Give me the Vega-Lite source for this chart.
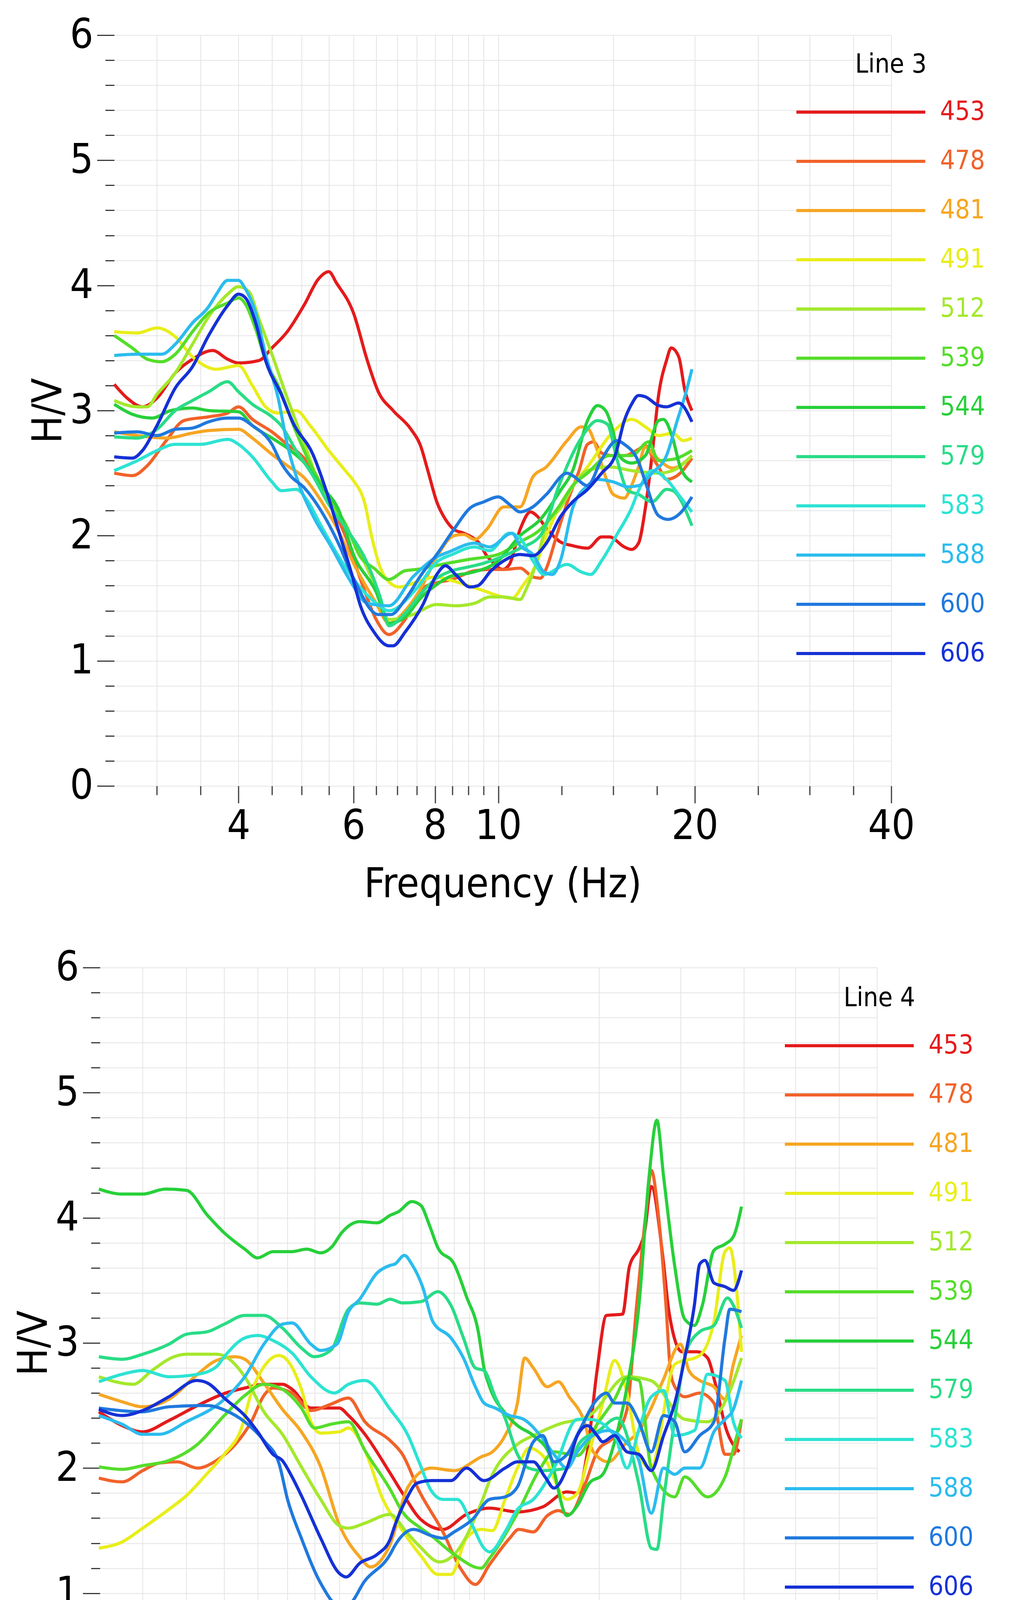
{
  "$schema": "https://vega.github.io/schema/vega-lite/v6.json",
  "background": "white",
  "padding": {"left": 35, "top": 38, "right": 0, "bottom": 0},
  "spacing": 108,
  "center": true,
  "resolve": {"scale": {"color": "independent"}, "legend": {"color": "independent"}},
  "datasets": {
    "line3": [
      {"site":"453","freq":2.58,"hv":3.21},{"site":"453","freq":2.7,"hv":3.1},{"site":"453","freq":2.85,"hv":3.03},{"site":"453","freq":3.0,"hv":3.1},{"site":"453","freq":3.2,"hv":3.3},{"site":"453","freq":3.4,"hv":3.41},{"site":"453","freq":3.65,"hv":3.48},{"site":"453","freq":3.85,"hv":3.41},{"site":"453","freq":4.0,"hv":3.38},{"site":"453","freq":4.3,"hv":3.4},{"site":"453","freq":4.5,"hv":3.5},{"site":"453","freq":4.75,"hv":3.63},{"site":"453","freq":5.05,"hv":3.85},{"site":"453","freq":5.3,"hv":4.05},{"site":"453","freq":5.5,"hv":4.11},{"site":"453","freq":5.65,"hv":4.02},{"site":"453","freq":6.0,"hv":3.78},{"site":"453","freq":6.3,"hv":3.4},{"site":"453","freq":6.55,"hv":3.15},{"site":"453","freq":6.9,"hv":3.0},{"site":"453","freq":7.35,"hv":2.85},{"site":"453","freq":7.6,"hv":2.72},{"site":"453","freq":7.8,"hv":2.52},{"site":"453","freq":8.05,"hv":2.27},{"site":"453","freq":8.3,"hv":2.13},{"site":"453","freq":8.55,"hv":2.05},{"site":"453","freq":8.85,"hv":2.02},{"site":"453","freq":9.1,"hv":1.99},{"site":"453","freq":9.35,"hv":1.94},{"site":"453","freq":9.6,"hv":1.84},{"site":"453","freq":9.8,"hv":1.79},{"site":"453","freq":10.15,"hv":1.73},{"site":"453","freq":10.4,"hv":1.77},{"site":"453","freq":10.8,"hv":2.05},{"site":"453","freq":11.2,"hv":2.19},{"site":"453","freq":11.45,"hv":2.16},{"site":"453","freq":11.85,"hv":2.06},{"site":"453","freq":12.45,"hv":1.95},{"site":"453","freq":13.0,"hv":1.92},{"site":"453","freq":13.7,"hv":1.9},{"site":"453","freq":14.4,"hv":1.99},{"site":"453","freq":14.8,"hv":1.99},{"site":"453","freq":15.6,"hv":1.91},{"site":"453","freq":16.0,"hv":1.89},{"site":"453","freq":16.4,"hv":1.94},{"site":"453","freq":16.8,"hv":2.22},{"site":"453","freq":17.2,"hv":2.64},{"site":"453","freq":17.6,"hv":3.12},{"site":"453","freq":18.1,"hv":3.4},{"site":"453","freq":18.4,"hv":3.5},{"site":"453","freq":18.9,"hv":3.43},{"site":"453","freq":19.3,"hv":3.17},{"site":"453","freq":19.8,"hv":3.0},
      {"site":"478","freq":2.58,"hv":2.5},{"site":"478","freq":2.75,"hv":2.48},{"site":"478","freq":2.9,"hv":2.56},{"site":"478","freq":3.1,"hv":2.76},{"site":"478","freq":3.3,"hv":2.92},{"site":"478","freq":3.6,"hv":2.95},{"site":"478","freq":3.85,"hv":2.98},{"site":"478","freq":4.0,"hv":3.03},{"site":"478","freq":4.2,"hv":2.93},{"site":"478","freq":4.5,"hv":2.83},{"site":"478","freq":4.75,"hv":2.73},{"site":"478","freq":4.9,"hv":2.68},{"site":"478","freq":5.2,"hv":2.53},{"site":"478","freq":5.5,"hv":2.28},{"site":"478","freq":5.85,"hv":1.98},{"site":"478","freq":6.2,"hv":1.6},{"site":"478","freq":6.5,"hv":1.33},{"site":"478","freq":6.8,"hv":1.21},{"site":"478","freq":7.2,"hv":1.33},{"site":"478","freq":7.65,"hv":1.58},{"site":"478","freq":8.0,"hv":1.62},{"site":"478","freq":8.5,"hv":1.65},{"site":"478","freq":9.2,"hv":1.72},{"site":"478","freq":9.8,"hv":1.73},{"site":"478","freq":10.2,"hv":1.73},{"site":"478","freq":10.8,"hv":1.74},{"site":"478","freq":11.3,"hv":1.67},{"site":"478","freq":11.6,"hv":1.66},{"site":"478","freq":11.85,"hv":1.74},{"site":"478","freq":12.3,"hv":2.01},{"site":"478","freq":12.8,"hv":2.29},{"site":"478","freq":13.3,"hv":2.52},{"site":"478","freq":13.7,"hv":2.73},{"site":"478","freq":14.0,"hv":2.75},{"site":"478","freq":14.4,"hv":2.66},{"site":"478","freq":15.0,"hv":2.64},{"site":"478","freq":15.6,"hv":2.64},{"site":"478","freq":16.4,"hv":2.69},{"site":"478","freq":16.8,"hv":2.72},{"site":"478","freq":17.3,"hv":2.61},{"site":"478","freq":17.6,"hv":2.55},{"site":"478","freq":18.1,"hv":2.45},{"site":"478","freq":19.0,"hv":2.5},{"site":"478","freq":19.8,"hv":2.62},
      {"site":"481","freq":2.58,"hv":2.83},{"site":"481","freq":2.8,"hv":2.8},{"site":"481","freq":3.1,"hv":2.78},{"site":"481","freq":3.4,"hv":2.82},{"site":"481","freq":3.6,"hv":2.84},{"site":"481","freq":4.0,"hv":2.85},{"site":"481","freq":4.2,"hv":2.78},{"site":"481","freq":4.5,"hv":2.65},{"site":"481","freq":4.75,"hv":2.56},{"site":"481","freq":5.05,"hv":2.46},{"site":"481","freq":5.35,"hv":2.28},{"site":"481","freq":5.7,"hv":2.03},{"site":"481","freq":6.0,"hv":1.78},{"site":"481","freq":6.5,"hv":1.46},{"site":"481","freq":6.8,"hv":1.3},{"site":"481","freq":7.2,"hv":1.4},{"site":"481","freq":7.65,"hv":1.6},{"site":"481","freq":8.05,"hv":1.83},{"site":"481","freq":8.55,"hv":2.0},{"site":"481","freq":8.85,"hv":2.01},{"site":"481","freq":9.2,"hv":1.97},{"site":"481","freq":9.6,"hv":2.05},{"site":"481","freq":10.2,"hv":2.23},{"site":"481","freq":10.8,"hv":2.23},{"site":"481","freq":11.3,"hv":2.47},{"site":"481","freq":11.85,"hv":2.55},{"site":"481","freq":12.75,"hv":2.76},{"site":"481","freq":13.4,"hv":2.87},{"site":"481","freq":13.7,"hv":2.86},{"site":"481","freq":14.1,"hv":2.72},{"site":"481","freq":14.6,"hv":2.47},{"site":"481","freq":15.0,"hv":2.33},{"site":"481","freq":15.6,"hv":2.3},{"site":"481","freq":16.0,"hv":2.4},{"site":"481","freq":16.4,"hv":2.55},{"site":"481","freq":16.8,"hv":2.71},{"site":"481","freq":17.2,"hv":2.66},{"site":"481","freq":17.6,"hv":2.61},{"site":"481","freq":18.5,"hv":2.54},{"site":"481","freq":19.8,"hv":2.64},
      {"site":"491","freq":2.58,"hv":3.63},{"site":"491","freq":2.8,"hv":3.62},{"site":"491","freq":3.0,"hv":3.66},{"site":"491","freq":3.2,"hv":3.59},{"site":"491","freq":3.4,"hv":3.43},{"site":"491","freq":3.7,"hv":3.33},{"site":"491","freq":4.0,"hv":3.36},{"site":"491","freq":4.2,"hv":3.2},{"site":"491","freq":4.4,"hv":3.03},{"site":"491","freq":4.6,"hv":2.98},{"site":"491","freq":4.9,"hv":3.0},{"site":"491","freq":5.15,"hv":2.88},{"site":"491","freq":5.5,"hv":2.68},{"site":"491","freq":5.85,"hv":2.51},{"site":"491","freq":6.0,"hv":2.44},{"site":"491","freq":6.25,"hv":2.25},{"site":"491","freq":6.4,"hv":1.99},{"site":"491","freq":6.6,"hv":1.74},{"site":"491","freq":6.8,"hv":1.63},{"site":"491","freq":7.05,"hv":1.59},{"site":"491","freq":7.5,"hv":1.63},{"site":"491","freq":8.0,"hv":1.67},{"site":"491","freq":8.5,"hv":1.64},{"site":"491","freq":9.0,"hv":1.6},{"site":"491","freq":9.5,"hv":1.56},{"site":"491","freq":10.0,"hv":1.52},{"site":"491","freq":10.5,"hv":1.5},{"site":"491","freq":10.9,"hv":1.6},{"site":"491","freq":11.4,"hv":1.76},{"site":"491","freq":11.85,"hv":2.0},{"site":"491","freq":12.45,"hv":2.25},{"site":"491","freq":13.0,"hv":2.4},{"site":"491","freq":13.7,"hv":2.55},{"site":"491","freq":15.0,"hv":2.83},{"site":"491","freq":16.0,"hv":2.93},{"site":"491","freq":16.8,"hv":2.87},{"site":"491","freq":17.6,"hv":2.8},{"site":"491","freq":18.5,"hv":2.82},{"site":"491","freq":19.2,"hv":2.76},{"site":"491","freq":19.8,"hv":2.78},
      {"site":"512","freq":2.58,"hv":3.08},{"site":"512","freq":2.8,"hv":3.03},{"site":"512","freq":2.9,"hv":3.03},{"site":"512","freq":3.0,"hv":3.13},{"site":"512","freq":3.2,"hv":3.3},{"site":"512","freq":3.4,"hv":3.53},{"site":"512","freq":3.6,"hv":3.75},{"site":"512","freq":3.85,"hv":3.93},{"site":"512","freq":4.0,"hv":3.99},{"site":"512","freq":4.15,"hv":3.95},{"site":"512","freq":4.3,"hv":3.73},{"site":"512","freq":4.5,"hv":3.45},{"site":"512","freq":4.75,"hv":3.1},{"site":"512","freq":5.05,"hv":2.73},{"site":"512","freq":5.35,"hv":2.38},{"site":"512","freq":5.7,"hv":2.16},{"site":"512","freq":6.0,"hv":1.96},{"site":"512","freq":6.5,"hv":1.58},{"site":"512","freq":6.8,"hv":1.33},{"site":"512","freq":7.4,"hv":1.37},{"site":"512","freq":8.05,"hv":1.45},{"site":"512","freq":8.6,"hv":1.44},{"site":"512","freq":9.2,"hv":1.46},{"site":"512","freq":9.7,"hv":1.51},{"site":"512","freq":10.2,"hv":1.51},{"site":"512","freq":10.8,"hv":1.49},{"site":"512","freq":11.05,"hv":1.58},{"site":"512","freq":11.4,"hv":1.76},{"site":"512","freq":11.85,"hv":2.08},{"site":"512","freq":12.45,"hv":2.22},{"site":"512","freq":13.0,"hv":2.39},{"site":"512","freq":13.7,"hv":2.52},{"site":"512","freq":14.8,"hv":2.55},{"site":"512","freq":16.0,"hv":2.52},{"site":"512","freq":17.6,"hv":2.5},{"site":"512","freq":18.5,"hv":2.52},{"site":"512","freq":19.8,"hv":2.64},
      {"site":"539","freq":2.58,"hv":3.6},{"site":"539","freq":2.75,"hv":3.5},{"site":"539","freq":2.9,"hv":3.41},{"site":"539","freq":3.05,"hv":3.39},{"site":"539","freq":3.2,"hv":3.45},{"site":"539","freq":3.4,"hv":3.63},{"site":"539","freq":3.6,"hv":3.78},{"site":"539","freq":3.85,"hv":3.86},{"site":"539","freq":4.0,"hv":3.9},{"site":"539","freq":4.1,"hv":3.85},{"site":"539","freq":4.25,"hv":3.65},{"site":"539","freq":4.4,"hv":3.4},{"site":"539","freq":4.6,"hv":3.2},{"site":"539","freq":4.9,"hv":2.83},{"site":"539","freq":5.2,"hv":2.53},{"site":"539","freq":5.55,"hv":2.28},{"site":"539","freq":5.85,"hv":2.08},{"site":"539","freq":6.15,"hv":1.83},{"site":"539","freq":6.45,"hv":1.74},{"site":"539","freq":6.8,"hv":1.65},{"site":"539","freq":7.2,"hv":1.72},{"site":"539","freq":7.5,"hv":1.73},{"site":"539","freq":8.0,"hv":1.76},{"site":"539","freq":9.0,"hv":1.81},{"site":"539","freq":10.0,"hv":1.85},{"site":"539","freq":10.8,"hv":1.95},{"site":"539","freq":11.6,"hv":2.05},{"site":"539","freq":12.45,"hv":2.25},{"site":"539","freq":13.0,"hv":2.4},{"site":"539","freq":13.7,"hv":2.5},{"site":"539","freq":14.8,"hv":2.64},{"site":"539","freq":16.0,"hv":2.64},{"site":"539","freq":17.0,"hv":2.75},{"site":"539","freq":17.6,"hv":2.6},{"site":"539","freq":18.5,"hv":2.61},{"site":"539","freq":19.8,"hv":2.68},
      {"site":"544","freq":2.58,"hv":3.05},{"site":"544","freq":2.75,"hv":2.97},{"site":"544","freq":2.95,"hv":2.94},{"site":"544","freq":3.15,"hv":3.0},{"site":"544","freq":3.4,"hv":3.02},{"site":"544","freq":3.6,"hv":3.0},{"site":"544","freq":4.0,"hv":2.99},{"site":"544","freq":4.2,"hv":2.88},{"site":"544","freq":4.5,"hv":2.78},{"site":"544","freq":4.75,"hv":2.7},{"site":"544","freq":5.05,"hv":2.58},{"site":"544","freq":5.35,"hv":2.4},{"site":"544","freq":5.7,"hv":2.2},{"site":"544","freq":6.0,"hv":1.85},{"site":"544","freq":6.5,"hv":1.55},{"site":"544","freq":6.8,"hv":1.3},{"site":"544","freq":7.2,"hv":1.35},{"site":"544","freq":7.6,"hv":1.5},{"site":"544","freq":8.0,"hv":1.6},{"site":"544","freq":8.5,"hv":1.68},{"site":"544","freq":9.0,"hv":1.7},{"site":"544","freq":10.0,"hv":1.8},{"site":"544","freq":10.8,"hv":2.0},{"site":"544","freq":11.6,"hv":2.13},{"site":"544","freq":12.45,"hv":2.36},{"site":"544","freq":13.0,"hv":2.52},{"site":"544","freq":13.7,"hv":2.92},{"site":"544","freq":14.2,"hv":3.04},{"site":"544","freq":14.6,"hv":3.0},{"site":"544","freq":15.0,"hv":2.83},{"site":"544","freq":15.3,"hv":2.64},{"site":"544","freq":16.0,"hv":2.58},{"site":"544","freq":16.8,"hv":2.64},{"site":"544","freq":17.6,"hv":2.92},{"site":"544","freq":17.9,"hv":2.93},{"site":"544","freq":18.5,"hv":2.78},{"site":"544","freq":19.0,"hv":2.55},{"site":"544","freq":19.8,"hv":2.43},
      {"site":"579","freq":2.58,"hv":2.79},{"site":"579","freq":2.8,"hv":2.78},{"site":"579","freq":3.0,"hv":2.85},{"site":"579","freq":3.2,"hv":3.0},{"site":"579","freq":3.4,"hv":3.08},{"site":"579","freq":3.6,"hv":3.15},{"site":"579","freq":3.85,"hv":3.23},{"site":"579","freq":4.0,"hv":3.15},{"site":"579","freq":4.2,"hv":3.05},{"site":"579","freq":4.5,"hv":2.95},{"site":"579","freq":4.65,"hv":2.88},{"site":"579","freq":4.9,"hv":2.68},{"site":"579","freq":5.2,"hv":2.48},{"site":"579","freq":5.5,"hv":2.25},{"site":"579","freq":5.9,"hv":2.03},{"site":"579","freq":6.3,"hv":1.78},{"site":"579","freq":6.6,"hv":1.5},{"site":"579","freq":6.8,"hv":1.28},{"site":"579","freq":7.2,"hv":1.38},{"site":"579","freq":7.65,"hv":1.55},{"site":"579","freq":8.0,"hv":1.65},{"site":"579","freq":8.5,"hv":1.72},{"site":"579","freq":9.0,"hv":1.75},{"site":"579","freq":9.5,"hv":1.78},{"site":"579","freq":10.0,"hv":1.82},{"site":"579","freq":10.8,"hv":1.9},{"site":"579","freq":11.6,"hv":2.0},{"site":"579","freq":12.45,"hv":2.43},{"site":"579","freq":13.4,"hv":2.78},{"site":"579","freq":14.2,"hv":2.92},{"site":"579","freq":14.7,"hv":2.89},{"site":"579","freq":15.2,"hv":2.61},{"site":"579","freq":15.8,"hv":2.36},{"site":"579","freq":16.4,"hv":2.33},{"site":"579","freq":17.2,"hv":2.27},{"site":"579","freq":18.1,"hv":2.37},{"site":"579","freq":18.5,"hv":2.36},{"site":"579","freq":19.8,"hv":2.08},
      {"site":"583","freq":2.58,"hv":2.52},{"site":"583","freq":2.8,"hv":2.6},{"site":"583","freq":3.0,"hv":2.68},{"site":"583","freq":3.2,"hv":2.73},{"site":"583","freq":3.5,"hv":2.73},{"site":"583","freq":3.85,"hv":2.77},{"site":"583","freq":4.0,"hv":2.73},{"site":"583","freq":4.2,"hv":2.63},{"site":"583","freq":4.5,"hv":2.43},{"site":"583","freq":4.65,"hv":2.36},{"site":"583","freq":4.9,"hv":2.37},{"site":"583","freq":5.1,"hv":2.28},{"site":"583","freq":5.35,"hv":2.08},{"site":"583","freq":5.7,"hv":1.83},{"site":"583","freq":6.05,"hv":1.63},{"site":"583","freq":6.5,"hv":1.46},{"site":"583","freq":6.8,"hv":1.4},{"site":"583","freq":7.5,"hv":1.58},{"site":"583","freq":8.05,"hv":1.79},{"site":"583","freq":8.5,"hv":1.85},{"site":"583","freq":9.2,"hv":1.91},{"site":"583","freq":9.7,"hv":1.88},{"site":"583","freq":10.4,"hv":2.02},{"site":"583","freq":10.8,"hv":1.98},{"site":"583","freq":11.3,"hv":1.8},{"site":"583","freq":11.75,"hv":1.69},{"site":"583","freq":12.75,"hv":1.77},{"site":"583","freq":13.4,"hv":1.71},{"site":"583","freq":13.85,"hv":1.69},{"site":"583","freq":14.4,"hv":1.8},{"site":"583","freq":15.2,"hv":2.01},{"site":"583","freq":16.0,"hv":2.22},{"site":"583","freq":16.4,"hv":2.36},{"site":"583","freq":17.2,"hv":2.52},{"site":"583","freq":18.1,"hv":2.45},{"site":"583","freq":19.0,"hv":2.31},{"site":"583","freq":19.8,"hv":2.19},
      {"site":"588","freq":2.58,"hv":3.44},{"site":"588","freq":2.8,"hv":3.45},{"site":"588","freq":3.05,"hv":3.45},{"site":"588","freq":3.2,"hv":3.53},{"site":"588","freq":3.4,"hv":3.7},{"site":"588","freq":3.6,"hv":3.83},{"site":"588","freq":3.7,"hv":3.93},{"site":"588","freq":3.85,"hv":4.04},{"site":"588","freq":4.0,"hv":4.04},{"site":"588","freq":4.1,"hv":3.97},{"site":"588","freq":4.25,"hv":3.78},{"site":"588","freq":4.4,"hv":3.45},{"site":"588","freq":4.6,"hv":3.1},{"site":"588","freq":4.75,"hv":2.73},{"site":"588","freq":4.9,"hv":2.48},{"site":"588","freq":5.2,"hv":2.16},{"site":"588","freq":5.55,"hv":1.91},{"site":"588","freq":5.9,"hv":1.66},{"site":"588","freq":6.3,"hv":1.46},{"site":"588","freq":6.8,"hv":1.44},{"site":"588","freq":7.4,"hv":1.67},{"site":"588","freq":8.05,"hv":1.83},{"site":"588","freq":8.4,"hv":1.87},{"site":"588","freq":9.2,"hv":1.94},{"site":"588","freq":9.7,"hv":1.91},{"site":"588","freq":10.5,"hv":2.02},{"site":"588","freq":10.8,"hv":1.92},{"site":"588","freq":11.3,"hv":1.85},{"site":"588","freq":11.75,"hv":1.71},{"site":"588","freq":12.1,"hv":1.69},{"site":"588","freq":12.45,"hv":1.8},{"site":"588","freq":13.0,"hv":2.22},{"site":"588","freq":13.7,"hv":2.4},{"site":"588","freq":14.2,"hv":2.45},{"site":"588","freq":15.0,"hv":2.43},{"site":"588","freq":15.8,"hv":2.39},{"site":"588","freq":16.4,"hv":2.4},{"site":"588","freq":17.2,"hv":2.5},{"site":"588","freq":18.1,"hv":2.64},{"site":"588","freq":18.8,"hv":2.92},{"site":"588","freq":19.4,"hv":3.15},{"site":"588","freq":19.8,"hv":3.33},
      {"site":"600","freq":2.58,"hv":2.82},{"site":"600","freq":2.8,"hv":2.83},{"site":"600","freq":3.0,"hv":2.8},{"site":"600","freq":3.2,"hv":2.85},{"site":"600","freq":3.4,"hv":2.86},{"site":"600","freq":3.6,"hv":2.91},{"site":"600","freq":3.85,"hv":2.94},{"site":"600","freq":4.0,"hv":2.94},{"site":"600","freq":4.2,"hv":2.88},{"site":"600","freq":4.5,"hv":2.73},{"site":"600","freq":4.65,"hv":2.58},{"site":"600","freq":4.8,"hv":2.48},{"site":"600","freq":5.05,"hv":2.38},{"site":"600","freq":5.35,"hv":2.2},{"site":"600","freq":5.7,"hv":1.93},{"site":"600","freq":6.0,"hv":1.66},{"site":"600","freq":6.55,"hv":1.37},{"site":"600","freq":6.85,"hv":1.37},{"site":"600","freq":7.2,"hv":1.49},{"site":"600","freq":7.65,"hv":1.7},{"site":"600","freq":8.05,"hv":1.85},{"site":"600","freq":8.55,"hv":2.05},{"site":"600","freq":9.05,"hv":2.22},{"site":"600","freq":9.5,"hv":2.27},{"site":"600","freq":10.0,"hv":2.31},{"site":"600","freq":10.4,"hv":2.25},{"site":"600","freq":10.8,"hv":2.19},{"site":"600","freq":11.3,"hv":2.23},{"site":"600","freq":11.85,"hv":2.33},{"site":"600","freq":12.75,"hv":2.5},{"site":"600","freq":13.0,"hv":2.48},{"site":"600","freq":13.7,"hv":2.4},{"site":"600","freq":14.4,"hv":2.61},{"site":"600","freq":15.2,"hv":2.76},{"site":"600","freq":15.6,"hv":2.73},{"site":"600","freq":16.4,"hv":2.59},{"site":"600","freq":16.8,"hv":2.43},{"site":"600","freq":17.6,"hv":2.16},{"site":"600","freq":18.2,"hv":2.13},{"site":"600","freq":19.0,"hv":2.18},{"site":"600","freq":19.8,"hv":2.31},
      {"site":"606","freq":2.58,"hv":2.63},{"site":"606","freq":2.75,"hv":2.62},{"site":"606","freq":2.85,"hv":2.68},{"site":"606","freq":3.0,"hv":2.88},{"site":"606","freq":3.2,"hv":3.18},{"site":"606","freq":3.4,"hv":3.35},{"site":"606","freq":3.6,"hv":3.6},{"site":"606","freq":3.85,"hv":3.84},{"site":"606","freq":4.0,"hv":3.93},{"site":"606","freq":4.1,"hv":3.9},{"site":"606","freq":4.25,"hv":3.7},{"site":"606","freq":4.4,"hv":3.4},{"site":"606","freq":4.65,"hv":3.13},{"site":"606","freq":4.85,"hv":2.9},{"site":"606","freq":5.2,"hv":2.65},{"site":"606","freq":5.45,"hv":2.36},{"site":"606","freq":5.7,"hv":2.03},{"site":"606","freq":5.95,"hv":1.71},{"site":"606","freq":6.15,"hv":1.44},{"site":"606","freq":6.45,"hv":1.23},{"site":"606","freq":6.8,"hv":1.12},{"site":"606","freq":6.9,"hv":1.12},{"site":"606","freq":7.2,"hv":1.23},{"site":"606","freq":7.65,"hv":1.44},{"site":"606","freq":8.05,"hv":1.69},{"site":"606","freq":8.3,"hv":1.76},{"site":"606","freq":8.6,"hv":1.69},{"site":"606","freq":9.05,"hv":1.59},{"site":"606","freq":9.3,"hv":1.6},{"site":"606","freq":9.75,"hv":1.72},{"site":"606","freq":10.2,"hv":1.8},{"site":"606","freq":10.8,"hv":1.85},{"site":"606","freq":11.3,"hv":1.84},{"site":"606","freq":11.85,"hv":1.94},{"site":"606","freq":12.45,"hv":2.15},{"site":"606","freq":13.0,"hv":2.27},{"site":"606","freq":13.7,"hv":2.37},{"site":"606","freq":14.4,"hv":2.5},{"site":"606","freq":15.1,"hv":2.64},{"site":"606","freq":15.6,"hv":2.92},{"site":"606","freq":16.0,"hv":3.05},{"site":"606","freq":16.4,"hv":3.12},{"site":"606","freq":16.8,"hv":3.11},{"site":"606","freq":17.6,"hv":3.04},{"site":"606","freq":18.1,"hv":3.03},{"site":"606","freq":18.9,"hv":3.06},{"site":"606","freq":19.8,"hv":2.91}
    ],
    "line4": [
      {"site":"453","freq":2.57,"hv":2.45},{"site":"453","freq":2.79,"hv":2.34},{"site":"453","freq":3.0,"hv":2.29},{"site":"453","freq":3.29,"hv":2.38},{"site":"453","freq":3.64,"hv":2.5},{"site":"453","freq":4.02,"hv":2.6},{"site":"453","freq":4.3,"hv":2.64},{"site":"453","freq":4.6,"hv":2.67},{"site":"453","freq":4.91,"hv":2.67},{"site":"453","freq":5.08,"hv":2.63},{"site":"453","freq":5.43,"hv":2.48},{"site":"453","freq":6.0,"hv":2.48},{"site":"453","freq":6.2,"hv":2.42},{"site":"453","freq":6.57,"hv":2.27},{"site":"453","freq":7.18,"hv":1.96},{"site":"453","freq":7.5,"hv":1.8},{"site":"453","freq":8.0,"hv":1.59},{"site":"453","freq":8.65,"hv":1.51},{"site":"453","freq":9.4,"hv":1.63},{"site":"453","freq":10.2,"hv":1.68},{"site":"453","freq":11.25,"hv":1.65},{"site":"453","freq":12.3,"hv":1.69},{"site":"453","freq":13.4,"hv":1.81},{"site":"453","freq":13.9,"hv":1.8},{"site":"453","freq":14.4,"hv":2.13},{"site":"453","freq":14.9,"hv":2.78},{"site":"453","freq":15.4,"hv":3.22},{"site":"453","freq":16.3,"hv":3.23},{"site":"453","freq":16.7,"hv":3.61},{"site":"453","freq":17.3,"hv":3.76},{"site":"453","freq":17.6,"hv":3.87},{"site":"453","freq":18.04,"hv":4.25},{"site":"453","freq":18.8,"hv":3.68},{"site":"453","freq":19.2,"hv":3.25},{"site":"453","freq":20.1,"hv":2.93},{"site":"453","freq":21.2,"hv":2.93},{"site":"453","freq":22.0,"hv":2.88},{"site":"453","freq":22.6,"hv":2.68},{"site":"453","freq":23.5,"hv":2.31},{"site":"453","freq":24.6,"hv":2.13},
      {"site":"478","freq":2.57,"hv":1.92},{"site":"478","freq":2.79,"hv":1.89},{"site":"478","freq":3.0,"hv":1.98},{"site":"478","freq":3.18,"hv":2.04},{"site":"478","freq":3.39,"hv":2.05},{"site":"478","freq":3.64,"hv":2.0},{"site":"478","freq":3.89,"hv":2.06},{"site":"478","freq":4.16,"hv":2.19},{"site":"478","freq":4.4,"hv":2.37},{"site":"478","freq":4.6,"hv":2.58},{"site":"478","freq":4.75,"hv":2.64},{"site":"478","freq":5.08,"hv":2.6},{"site":"478","freq":5.43,"hv":2.46},{"site":"478","freq":5.82,"hv":2.51},{"site":"478","freq":6.2,"hv":2.56},{"site":"478","freq":6.57,"hv":2.37},{"site":"478","freq":7.18,"hv":2.22},{"site":"478","freq":7.5,"hv":2.11},{"site":"478","freq":7.95,"hv":1.82},{"site":"478","freq":8.65,"hv":1.49},{"site":"478","freq":9.2,"hv":1.2},{"site":"478","freq":9.7,"hv":1.07},{"site":"478","freq":10.2,"hv":1.23},{"site":"478","freq":10.95,"hv":1.44},{"site":"478","freq":11.3,"hv":1.51},{"site":"478","freq":11.9,"hv":1.49},{"site":"478","freq":12.5,"hv":1.62},{"site":"478","freq":13.0,"hv":1.66},{"site":"478","freq":13.5,"hv":1.63},{"site":"478","freq":14.3,"hv":1.88},{"site":"478","freq":14.9,"hv":2.13},{"site":"478","freq":15.85,"hv":2.26},{"site":"478","freq":16.56,"hv":2.47},{"site":"478","freq":17.13,"hv":3.3},{"site":"478","freq":17.73,"hv":4.07},{"site":"478","freq":18.04,"hv":4.38},{"site":"478","freq":18.5,"hv":4.02},{"site":"478","freq":19.0,"hv":3.3},{"site":"478","freq":19.3,"hv":2.78},{"site":"478","freq":19.6,"hv":2.65},{"site":"478","freq":20.3,"hv":2.57},{"site":"478","freq":21.4,"hv":2.6},{"site":"478","freq":22.5,"hv":2.52},{"site":"478","freq":23.4,"hv":2.11},{"site":"478","freq":24.1,"hv":2.11},{"site":"478","freq":24.8,"hv":2.39},
      {"site":"481","freq":2.57,"hv":2.59},{"site":"481","freq":2.79,"hv":2.53},{"site":"481","freq":3.0,"hv":2.49},{"site":"481","freq":3.29,"hv":2.55},{"site":"481","freq":3.64,"hv":2.75},{"site":"481","freq":3.89,"hv":2.86},{"site":"481","freq":4.16,"hv":2.89},{"site":"481","freq":4.3,"hv":2.87},{"site":"481","freq":4.6,"hv":2.68},{"site":"481","freq":4.91,"hv":2.47},{"site":"481","freq":5.25,"hv":2.29},{"site":"481","freq":5.62,"hv":2.01},{"site":"481","freq":6.0,"hv":1.55},{"site":"481","freq":6.45,"hv":1.29},{"site":"481","freq":6.7,"hv":1.21},{"site":"481","freq":7.18,"hv":1.39},{"site":"481","freq":7.65,"hv":1.85},{"site":"481","freq":8.3,"hv":2.0},{"site":"481","freq":9.0,"hv":1.98},{"site":"481","freq":9.9,"hv":2.09},{"site":"481","freq":10.3,"hv":2.13},{"site":"481","freq":10.77,"hv":2.26},{"site":"481","freq":11.25,"hv":2.52},{"site":"481","freq":11.54,"hv":2.88},{"site":"481","freq":11.9,"hv":2.8},{"site":"481","freq":12.5,"hv":2.65},{"site":"481","freq":13.0,"hv":2.69},{"site":"481","freq":13.5,"hv":2.57},{"site":"481","freq":14.2,"hv":2.39},{"site":"481","freq":14.7,"hv":2.13},{"site":"481","freq":15.5,"hv":2.05},{"site":"481","freq":16.5,"hv":2.2},{"site":"481","freq":17.3,"hv":2.3},{"site":"481","freq":18.0,"hv":2.47},{"site":"481","freq":18.8,"hv":2.7},{"site":"481","freq":20.0,"hv":2.99},{"site":"481","freq":20.6,"hv":2.78},{"site":"481","freq":21.4,"hv":2.7},{"site":"481","freq":22.5,"hv":2.65},{"site":"481","freq":23.4,"hv":2.55},{"site":"481","freq":24.1,"hv":2.83},{"site":"481","freq":24.8,"hv":3.06},
      {"site":"491","freq":2.57,"hv":1.36},{"site":"491","freq":2.79,"hv":1.41},{"site":"491","freq":3.0,"hv":1.52},{"site":"491","freq":3.29,"hv":1.67},{"site":"491","freq":3.5,"hv":1.78},{"site":"491","freq":3.77,"hv":1.96},{"site":"491","freq":4.0,"hv":2.11},{"site":"491","freq":4.25,"hv":2.32},{"site":"491","freq":4.4,"hv":2.6},{"site":"491","freq":4.6,"hv":2.81},{"site":"491","freq":4.85,"hv":2.9},{"site":"491","freq":5.0,"hv":2.86},{"site":"491","freq":5.25,"hv":2.63},{"site":"491","freq":5.43,"hv":2.37},{"site":"491","freq":5.62,"hv":2.28},{"site":"491","freq":6.0,"hv":2.29},{"site":"491","freq":6.2,"hv":2.32},{"site":"491","freq":6.57,"hv":2.14},{"site":"491","freq":7.0,"hv":1.75},{"site":"491","freq":7.5,"hv":1.5},{"site":"491","freq":8.0,"hv":1.3},{"site":"491","freq":8.5,"hv":1.15},{"site":"491","freq":8.9,"hv":1.15},{"site":"491","freq":9.4,"hv":1.44},{"site":"491","freq":9.9,"hv":1.51},{"site":"491","freq":10.3,"hv":1.5},{"site":"491","freq":10.77,"hv":1.75},{"site":"491","freq":11.25,"hv":2.0},{"site":"491","freq":11.73,"hv":2.16},{"site":"491","freq":12.3,"hv":2.1},{"site":"491","freq":13.4,"hv":1.75},{"site":"491","freq":13.9,"hv":1.8},{"site":"491","freq":14.5,"hv":2.13},{"site":"491","freq":15.2,"hv":2.52},{"site":"491","freq":15.85,"hv":2.86},{"site":"491","freq":16.56,"hv":2.6},{"site":"491","freq":17.3,"hv":2.1},{"site":"491","freq":18.0,"hv":2.0},{"site":"491","freq":19.6,"hv":2.83},{"site":"491","freq":21.4,"hv":2.9},{"site":"491","freq":22.5,"hv":3.17},{"site":"491","freq":23.4,"hv":3.73},{"site":"491","freq":23.8,"hv":3.76},{"site":"491","freq":24.4,"hv":3.4},{"site":"491","freq":24.8,"hv":2.93},
      {"site":"512","freq":2.57,"hv":2.73},{"site":"512","freq":2.9,"hv":2.67},{"site":"512","freq":3.1,"hv":2.78},{"site":"512","freq":3.35,"hv":2.89},{"site":"512","freq":3.5,"hv":2.91},{"site":"512","freq":3.89,"hv":2.91},{"site":"512","freq":4.02,"hv":2.89},{"site":"512","freq":4.3,"hv":2.73},{"site":"512","freq":4.6,"hv":2.45},{"site":"512","freq":4.91,"hv":2.27},{"site":"512","freq":5.25,"hv":2.01},{"site":"512","freq":5.62,"hv":1.75},{"site":"512","freq":6.0,"hv":1.54},{"site":"512","freq":6.2,"hv":1.52},{"site":"512","freq":6.57,"hv":1.56},{"site":"512","freq":7.18,"hv":1.63},{"site":"512","freq":7.6,"hv":1.49},{"site":"512","freq":7.95,"hv":1.38},{"site":"512","freq":8.55,"hv":1.25},{"site":"512","freq":9.0,"hv":1.31},{"site":"512","freq":9.9,"hv":1.72},{"site":"512","freq":10.2,"hv":1.9},{"site":"512","freq":11.25,"hv":2.19},{"site":"512","freq":11.9,"hv":2.26},{"site":"512","freq":13.0,"hv":2.35},{"site":"512","freq":14.5,"hv":2.42},{"site":"512","freq":16.56,"hv":2.73},{"site":"512","freq":18.0,"hv":2.7},{"site":"512","freq":20.3,"hv":2.39},{"site":"512","freq":22.0,"hv":2.37},{"site":"512","freq":23.6,"hv":2.57},{"site":"512","freq":24.8,"hv":2.88},
      {"site":"539","freq":2.57,"hv":2.01},{"site":"539","freq":2.79,"hv":1.99},{"site":"539","freq":3.0,"hv":2.02},{"site":"539","freq":3.29,"hv":2.06},{"site":"539","freq":3.64,"hv":2.19},{"site":"539","freq":4.0,"hv":2.42},{"site":"539","freq":4.3,"hv":2.58},{"site":"539","freq":4.6,"hv":2.67},{"site":"539","freq":4.91,"hv":2.63},{"site":"539","freq":5.25,"hv":2.48},{"site":"539","freq":5.5,"hv":2.32},{"site":"539","freq":5.82,"hv":2.35},{"site":"539","freq":6.2,"hv":2.37},{"site":"539","freq":6.57,"hv":2.14},{"site":"539","freq":7.18,"hv":1.83},{"site":"539","freq":7.5,"hv":1.65},{"site":"539","freq":8.0,"hv":1.52},{"site":"539","freq":8.3,"hv":1.46},{"site":"539","freq":9.0,"hv":1.31},{"site":"539","freq":9.9,"hv":1.2},{"site":"539","freq":10.2,"hv":1.28},{"site":"539","freq":11.25,"hv":1.64},{"site":"539","freq":12.2,"hv":2.0},{"site":"539","freq":12.8,"hv":2.13},{"site":"539","freq":13.9,"hv":2.1},{"site":"539","freq":14.9,"hv":2.35},{"site":"539","freq":15.85,"hv":2.55},{"site":"539","freq":16.56,"hv":2.72},{"site":"539","freq":17.27,"hv":2.7},{"site":"539","freq":18.04,"hv":2.0},{"site":"539","freq":19.6,"hv":1.77},{"site":"539","freq":20.3,"hv":1.93},{"site":"539","freq":22.0,"hv":1.77},{"site":"539","freq":23.4,"hv":1.93},{"site":"539","freq":24.4,"hv":2.26},{"site":"539","freq":24.8,"hv":2.39},
      {"site":"544","freq":2.57,"hv":4.23},{"site":"544","freq":2.79,"hv":4.19},{"site":"544","freq":3.0,"hv":4.19},{"site":"544","freq":3.25,"hv":4.23},{"site":"544","freq":3.5,"hv":4.22},{"site":"544","freq":3.77,"hv":4.02},{"site":"544","freq":4.0,"hv":3.88},{"site":"544","freq":4.3,"hv":3.75},{"site":"544","freq":4.5,"hv":3.68},{"site":"544","freq":4.75,"hv":3.73},{"site":"544","freq":5.08,"hv":3.73},{"site":"544","freq":5.35,"hv":3.75},{"site":"544","freq":5.62,"hv":3.72},{"site":"544","freq":5.85,"hv":3.77},{"site":"544","freq":6.05,"hv":3.88},{"site":"544","freq":6.45,"hv":3.97},{"site":"544","freq":6.86,"hv":3.96},{"site":"544","freq":7.18,"hv":4.02},{"site":"544","freq":7.4,"hv":4.05},{"site":"544","freq":7.75,"hv":4.13},{"site":"544","freq":8.0,"hv":4.1},{"site":"544","freq":8.25,"hv":3.94},{"site":"544","freq":8.5,"hv":3.76},{"site":"544","freq":9.0,"hv":3.63},{"site":"544","freq":9.4,"hv":3.37},{"site":"544","freq":9.8,"hv":3.09},{"site":"544","freq":10.0,"hv":2.8},{"site":"544","freq":10.2,"hv":2.65},{"site":"544","freq":10.77,"hv":2.44},{"site":"544","freq":11.25,"hv":2.34},{"site":"544","freq":11.9,"hv":2.26},{"site":"544","freq":12.6,"hv":2.11},{"site":"544","freq":13.4,"hv":1.62},{"site":"544","freq":13.9,"hv":1.7},{"site":"544","freq":14.5,"hv":1.88},{"site":"544","freq":15.2,"hv":1.95},{"site":"544","freq":15.85,"hv":2.21},{"site":"544","freq":16.56,"hv":2.65},{"site":"544","freq":17.27,"hv":3.3},{"site":"544","freq":17.9,"hv":4.33},{"site":"544","freq":18.4,"hv":4.78},{"site":"544","freq":18.84,"hv":4.33},{"site":"544","freq":19.6,"hv":3.61},{"site":"544","freq":20.3,"hv":3.19},{"site":"544","freq":21.0,"hv":3.14},{"site":"544","freq":21.6,"hv":3.3},{"site":"544","freq":22.5,"hv":3.74},{"site":"544","freq":23.4,"hv":3.79},{"site":"544","freq":24.1,"hv":3.85},{"site":"544","freq":24.8,"hv":4.09},
      {"site":"579","freq":2.57,"hv":2.89},{"site":"579","freq":2.79,"hv":2.87},{"site":"579","freq":3.0,"hv":2.91},{"site":"579","freq":3.29,"hv":2.99},{"site":"579","freq":3.5,"hv":3.07},{"site":"579","freq":3.77,"hv":3.09},{"site":"579","freq":4.0,"hv":3.15},{"site":"579","freq":4.3,"hv":3.22},{"site":"579","freq":4.6,"hv":3.22},{"site":"579","freq":4.91,"hv":3.12},{"site":"579","freq":5.25,"hv":2.96},{"site":"579","freq":5.5,"hv":2.89},{"site":"579","freq":5.82,"hv":2.94},{"site":"579","freq":6.2,"hv":3.27},{"site":"579","freq":6.45,"hv":3.32},{"site":"579","freq":6.86,"hv":3.31},{"site":"579","freq":7.18,"hv":3.35},{"site":"579","freq":7.5,"hv":3.32},{"site":"579","freq":8.0,"hv":3.33},{"site":"579","freq":8.5,"hv":3.41},{"site":"579","freq":8.9,"hv":3.3},{"site":"579","freq":9.3,"hv":3.04},{"site":"579","freq":9.7,"hv":2.8},{"site":"579","freq":10.0,"hv":2.78},{"site":"579","freq":10.4,"hv":2.57},{"site":"579","freq":10.77,"hv":2.4},{"site":"579","freq":11.25,"hv":2.11},{"site":"579","freq":11.7,"hv":2.0},{"site":"579","freq":12.3,"hv":1.98},{"site":"579","freq":13.4,"hv":2.0},{"site":"579","freq":14.0,"hv":2.2},{"site":"579","freq":15.0,"hv":2.3},{"site":"579","freq":16.0,"hv":2.4},{"site":"579","freq":17.27,"hv":1.87},{"site":"579","freq":18.04,"hv":1.36},{"site":"579","freq":18.4,"hv":1.35},{"site":"579","freq":18.84,"hv":1.75},{"site":"579","freq":19.6,"hv":2.39},{"site":"579","freq":20.4,"hv":2.93},{"site":"579","freq":21.4,"hv":3.09},{"site":"579","freq":22.5,"hv":3.14},{"site":"579","freq":23.6,"hv":3.36},{"site":"579","freq":24.1,"hv":3.3},{"site":"579","freq":24.8,"hv":3.12},
      {"site":"583","freq":2.57,"hv":2.69},{"site":"583","freq":2.79,"hv":2.75},{"site":"583","freq":3.0,"hv":2.78},{"site":"583","freq":3.29,"hv":2.73},{"site":"583","freq":3.64,"hv":2.75},{"site":"583","freq":3.89,"hv":2.81},{"site":"583","freq":4.0,"hv":2.89},{"site":"583","freq":4.3,"hv":3.04},{"site":"583","freq":4.5,"hv":3.06},{"site":"583","freq":4.75,"hv":3.02},{"site":"583","freq":5.08,"hv":2.92},{"site":"583","freq":5.43,"hv":2.73},{"site":"583","freq":5.9,"hv":2.6},{"site":"583","freq":6.2,"hv":2.67},{"site":"583","freq":6.57,"hv":2.7},{"site":"583","freq":7.18,"hv":2.47},{"site":"583","freq":7.65,"hv":2.26},{"site":"583","freq":7.95,"hv":2.05},{"site":"583","freq":8.3,"hv":1.82},{"site":"583","freq":8.65,"hv":1.75},{"site":"583","freq":9.1,"hv":1.75},{"site":"583","freq":9.6,"hv":1.54},{"site":"583","freq":10.0,"hv":1.36},{"site":"583","freq":10.2,"hv":1.33},{"site":"583","freq":10.77,"hv":1.49},{"site":"583","freq":11.25,"hv":1.67},{"site":"583","freq":11.9,"hv":1.75},{"site":"583","freq":12.8,"hv":2.0},{"site":"583","freq":13.9,"hv":2.39},{"site":"583","freq":14.5,"hv":2.39},{"site":"583","freq":15.85,"hv":2.26},{"site":"583","freq":16.56,"hv":2.0},{"site":"583","freq":17.27,"hv":2.31},{"site":"583","freq":18.04,"hv":2.57},{"site":"583","freq":18.84,"hv":2.62},{"site":"583","freq":19.6,"hv":2.26},{"site":"583","freq":21.0,"hv":2.3},{"site":"583","freq":22.0,"hv":2.75},{"site":"583","freq":23.4,"hv":2.7},{"site":"583","freq":24.1,"hv":2.37},{"site":"583","freq":24.8,"hv":2.24},
      {"site":"588","freq":2.57,"hv":2.42},{"site":"588","freq":2.79,"hv":2.35},{"site":"588","freq":3.0,"hv":2.27},{"site":"588","freq":3.18,"hv":2.27},{"site":"588","freq":3.5,"hv":2.37},{"site":"588","freq":4.0,"hv":2.55},{"site":"588","freq":4.3,"hv":2.73},{"site":"588","freq":4.6,"hv":2.99},{"site":"588","freq":4.91,"hv":3.15},{"site":"588","freq":5.08,"hv":3.16},{"site":"588","freq":5.43,"hv":2.99},{"site":"588","freq":5.62,"hv":2.94},{"site":"588","freq":5.95,"hv":2.99},{"site":"588","freq":6.2,"hv":3.25},{"site":"588","freq":6.45,"hv":3.35},{"site":"588","freq":6.86,"hv":3.56},{"site":"588","freq":7.18,"hv":3.62},{"site":"588","freq":7.3,"hv":3.63},{"site":"588","freq":7.55,"hv":3.7},{"site":"588","freq":7.75,"hv":3.63},{"site":"588","freq":8.05,"hv":3.45},{"site":"588","freq":8.35,"hv":3.17},{"site":"588","freq":8.9,"hv":3.04},{"site":"588","freq":9.3,"hv":2.88},{"site":"588","freq":9.7,"hv":2.65},{"site":"588","freq":10.0,"hv":2.52},{"site":"588","freq":10.4,"hv":2.48},{"site":"588","freq":10.95,"hv":2.42},{"site":"588","freq":11.5,"hv":2.39},{"site":"588","freq":12.2,"hv":2.26},{"site":"588","freq":12.8,"hv":2.11},{"site":"588","freq":13.4,"hv":2.0},{"site":"588","freq":13.9,"hv":2.13},{"site":"588","freq":14.5,"hv":2.24},{"site":"588","freq":15.5,"hv":2.3},{"site":"588","freq":16.56,"hv":2.2},{"site":"588","freq":17.27,"hv":2.06},{"site":"588","freq":18.04,"hv":1.64},{"site":"588","freq":18.84,"hv":2.0},{"site":"588","freq":19.6,"hv":1.95},{"site":"588","freq":20.3,"hv":2.0},{"site":"588","freq":21.4,"hv":2.0},{"site":"588","freq":22.5,"hv":2.29},{"site":"588","freq":23.4,"hv":2.39},{"site":"588","freq":24.1,"hv":2.47},{"site":"588","freq":24.8,"hv":2.7},
      {"site":"600","freq":2.57,"hv":2.48},{"site":"600","freq":3.0,"hv":2.45},{"site":"600","freq":3.29,"hv":2.49},{"site":"600","freq":3.77,"hv":2.5},{"site":"600","freq":4.02,"hv":2.46},{"site":"600","freq":4.3,"hv":2.37},{"site":"600","freq":4.6,"hv":2.22},{"site":"600","freq":4.85,"hv":2.04},{"site":"600","freq":5.0,"hv":1.75},{"site":"600","freq":5.25,"hv":1.44},{"site":"600","freq":5.62,"hv":1.08},{"site":"600","freq":6.0,"hv":0.9},{"site":"600","freq":6.2,"hv":0.91},{"site":"600","freq":6.57,"hv":1.1},{"site":"600","freq":7.18,"hv":1.31},{"site":"600","freq":7.3,"hv":1.38},{"site":"600","freq":7.8,"hv":1.51},{"site":"600","freq":8.3,"hv":1.46},{"site":"600","freq":8.65,"hv":1.44},{"site":"600","freq":9.0,"hv":1.49},{"site":"600","freq":9.6,"hv":1.59},{"site":"600","freq":10.2,"hv":1.75},{"site":"600","freq":10.77,"hv":1.77},{"site":"600","freq":11.25,"hv":1.85},{"site":"600","freq":11.9,"hv":2.21},{"site":"600","freq":12.3,"hv":2.26},{"site":"600","freq":12.8,"hv":2.05},{"site":"600","freq":13.4,"hv":2.11},{"site":"600","freq":14.0,"hv":2.3},{"site":"600","freq":14.9,"hv":2.55},{"site":"600","freq":15.4,"hv":2.6},{"site":"600","freq":15.85,"hv":2.52},{"site":"600","freq":16.56,"hv":2.52},{"site":"600","freq":17.27,"hv":2.37},{"site":"600","freq":18.04,"hv":2.13},{"site":"600","freq":18.84,"hv":2.42},{"site":"600","freq":19.6,"hv":2.37},{"site":"600","freq":20.3,"hv":2.13},{"site":"600","freq":21.4,"hv":2.26},{"site":"600","freq":22.5,"hv":2.37},{"site":"600","freq":23.4,"hv":3.04},{"site":"600","freq":23.8,"hv":3.27},{"site":"600","freq":24.8,"hv":3.25},
      {"site":"606","freq":2.57,"hv":2.47},{"site":"606","freq":2.79,"hv":2.42},{"site":"606","freq":3.0,"hv":2.46},{"site":"606","freq":3.29,"hv":2.57},{"site":"606","freq":3.63,"hv":2.7},{"site":"606","freq":3.77,"hv":2.68},{"site":"606","freq":4.02,"hv":2.55},{"site":"606","freq":4.3,"hv":2.42},{"site":"606","freq":4.5,"hv":2.29},{"site":"606","freq":4.75,"hv":2.11},{"site":"606","freq":4.91,"hv":2.06},{"site":"606","freq":5.08,"hv":1.93},{"site":"606","freq":5.25,"hv":1.78},{"site":"606","freq":5.62,"hv":1.44},{"site":"606","freq":6.0,"hv":1.16},{"site":"606","freq":6.15,"hv":1.13},{"site":"606","freq":6.45,"hv":1.24},{"site":"606","freq":6.86,"hv":1.31},{"site":"606","freq":7.18,"hv":1.43},{"site":"606","freq":7.3,"hv":1.54},{"site":"606","freq":7.6,"hv":1.75},{"site":"606","freq":7.9,"hv":1.88},{"site":"606","freq":8.3,"hv":1.9},{"site":"606","freq":8.9,"hv":1.9},{"site":"606","freq":9.4,"hv":2.0},{"site":"606","freq":10.0,"hv":1.9},{"site":"606","freq":10.77,"hv":2.0},{"site":"606","freq":11.25,"hv":2.05},{"site":"606","freq":11.9,"hv":2.05},{"site":"606","freq":12.4,"hv":1.93},{"site":"606","freq":12.8,"hv":1.84},{"site":"606","freq":13.4,"hv":2.0},{"site":"606","freq":13.9,"hv":2.26},{"site":"606","freq":14.4,"hv":2.34},{"site":"606","freq":14.9,"hv":2.26},{"site":"606","freq":15.2,"hv":2.21},{"site":"606","freq":15.85,"hv":2.26},{"site":"606","freq":16.56,"hv":2.13},{"site":"606","freq":17.27,"hv":2.11},{"site":"606","freq":18.04,"hv":1.98},{"site":"606","freq":18.84,"hv":2.26},{"site":"606","freq":19.6,"hv":2.52},{"site":"606","freq":20.3,"hv":2.88},{"site":"606","freq":21.0,"hv":3.3},{"site":"606","freq":21.4,"hv":3.63},{"site":"606","freq":21.8,"hv":3.66},{"site":"606","freq":22.5,"hv":3.48},{"site":"606","freq":23.4,"hv":3.45},{"site":"606","freq":24.1,"hv":3.42},{"site":"606","freq":24.8,"hv":3.58}
    ]
  },
  "vconcat": [
    {
      "data": {"name": "line3"},
      "width": 1990,
      "height": 1922,
      "mark": {"type": "line", "strokeWidth": 8, "interpolate": "monotone"},
      "encoding": {
        "x": {
          "field": "freq", "type": "quantitative",
          "scale": {"type": "log", "domain": [2.58, 40], "nice": false},
          "axis": {
            "title": "Frequency (Hz)",
            "values": [3, 3.5, 4, 4.5, 5, 5.5, 6, 6.5, 7, 7.5, 8, 8.5, 9, 9.5, 10, 12.5, 15, 17.5, 20, 25, 30, 35, 40],
            "labelExpr": "indexof([4, 6, 8, 10, 20, 40], datum.value) >= 0 ? '' + datum.value : ''",
            "tickSize": {"condition": {"test": "indexof([4, 6, 8, 10, 20, 40], datum.value) >= 0", "value": 44}, "value": 23},
            "gridOpacity": {"condition": {"test": "datum.value == 12.5 || datum.value == 17.5", "value": 0}, "value": 1},
            "labelPadding": 8,
            "titlePadding": 45
          }
        },
        "y": {
          "field": "hv", "type": "quantitative",
          "scale": {"domain": [0, 6], "nice": false},
          "axis": {
            "title": "H/V",
            "values": [0, 0.2, 0.4, 0.6, 0.8, 1, 1.2, 1.4, 1.6, 1.8, 2, 2.2, 2.4, 2.6, 2.8, 3, 3.2, 3.4, 3.6, 3.8, 4, 4.2, 4.4, 4.6, 4.8, 5, 5.2, 5.4, 5.6, 5.8, 6],
            "labelExpr": "datum.value % 1 == 0 ? '' + datum.value : ''",
            "tickSize": {"condition": {"test": "datum.value % 1 == 0", "value": 44}, "value": 23},
            "labelPadding": 10,
            "titlePadding": 0
          }
        },
        "color": {
          "field": "site", "type": "nominal",
          "scale": {
            "domain": ["453", "478", "481", "491", "512", "539", "544", "579", "583", "588", "600", "606"],
            "range": ["#e41b1c", "#f1622a", "#f6a623", "#e8ee1a", "#a4e82c", "#55dd2b", "#27d03a", "#29dc86", "#2de3d3", "#2bbcee", "#2079de", "#1531d6"]
          },
          "legend": {
            "title": "Line 3",
            "orient": "none",
            "legendX": 1747,
            "legendY": 43,
            "padding": 0,
            "symbolType": "M-5.5,0H5.5",
            "encode": {"labels": {"update": {"fill": {"signal": "['#e41b1c', '#f1622a', '#f6a623', '#e8ee1a', '#a4e82c', '#55dd2b', '#27d03a', '#29dc86', '#2de3d3', '#2bbcee', '#2079de', '#1531d6'][indexof(['453', '478', '481', '491', '512', '539', '544', '579', '583', '588', '600', '606'], datum.value)]"}}}}
          }
        }
      }
    },
    {
      "data": {"name": "line4"},
      "width": 1990,
      "height": 1922,
      "mark": {"type": "line", "strokeWidth": 8, "interpolate": "monotone"},
      "encoding": {
        "x": {
          "field": "freq", "type": "quantitative",
          "scale": {"type": "log", "domain": [2.58, 40], "nice": false},
          "axis": {
            "title": "Frequency (Hz)",
            "values": [3, 3.5, 4, 4.5, 5, 5.5, 6, 6.5, 7, 7.5, 8, 8.5, 9, 9.5, 10, 12.5, 15, 17.5, 20, 25, 30, 35, 40],
            "labelExpr": "indexof([4, 6, 8, 10, 20, 40], datum.value) >= 0 ? '' + datum.value : ''",
            "tickSize": {"condition": {"test": "indexof([4, 6, 8, 10, 20, 40], datum.value) >= 0", "value": 44}, "value": 23},
            "gridOpacity": {"condition": {"test": "datum.value == 12.5 || datum.value == 17.5", "value": 0}, "value": 1},
            "labelPadding": 8,
            "titlePadding": 45
          }
        },
        "y": {
          "field": "hv", "type": "quantitative",
          "scale": {"domain": [0, 6], "nice": false},
          "axis": {
            "title": "H/V",
            "values": [0, 0.2, 0.4, 0.6, 0.8, 1, 1.2, 1.4, 1.6, 1.8, 2, 2.2, 2.4, 2.6, 2.8, 3, 3.2, 3.4, 3.6, 3.8, 4, 4.2, 4.4, 4.6, 4.8, 5, 5.2, 5.4, 5.6, 5.8, 6],
            "labelExpr": "datum.value % 1 == 0 ? '' + datum.value : ''",
            "tickSize": {"condition": {"test": "datum.value % 1 == 0", "value": 44}, "value": 23},
            "labelPadding": 10,
            "titlePadding": 0
          }
        },
        "color": {
          "field": "site", "type": "nominal",
          "scale": {
            "domain": ["453", "478", "481", "491", "512", "539", "544", "579", "583", "588", "600", "606"],
            "range": ["#e41b1c", "#f1622a", "#f6a623", "#e8ee1a", "#a4e82c", "#55dd2b", "#27d03a", "#29dc86", "#2de3d3", "#2bbcee", "#2079de", "#1531d6"]
          },
          "legend": {
            "title": "Line 4",
            "orient": "none",
            "legendX": 1688,
            "legendY": -20,
            "padding": 66,
            "symbolType": "M-5.5,0H5.5",
            "encode": {"labels": {"update": {"fill": {"signal": "['#e41b1c', '#f1622a', '#f6a623', '#e8ee1a', '#a4e82c', '#55dd2b', '#27d03a', '#29dc86', '#2de3d3', '#2bbcee', '#2079de', '#1531d6'][indexof(['453', '478', '481', '491', '512', '539', '544', '579', '583', '588', '600', '606'], datum.value)]"}}}}
          }
        }
      }
    }
  ],
  "config": {
    "view": {"stroke": null},
    "font": "DejaVu Sans Condensed, DejaVu Sans",
    "axis": {
      "domain": false,
      "grid": true,
      "gridColor": "#e4e4e4",
      "gridWidth": 2,
      "tickColor": "#3a3a3a",
      "tickWidth": 3,
      "labelFont": "DejaVu Sans Condensed, DejaVu Sans",
      "labelFontSize": 105,
      "labelColor": "#000000",
      "labelOverlap": false,
      "labelFlush": false,
      "labelBound": false,
      "titleFont": "DejaVu Sans Condensed, DejaVu Sans",
      "titleFontSize": 105,
      "titleFontWeight": "normal",
      "titleColor": "#000000"
    },
    "legend": {
      "symbolSize": 3600,
      "symbolStrokeWidth": 8,
      "symbolOffset": 131,
      "labelFont": "DejaVu Sans Condensed, DejaVu Sans",
      "labelFontSize": 67,
      "labelOffset": 169,
      "labelLimit": 0,
      "titleFont": "DejaVu Sans Condensed, DejaVu Sans",
      "titleFontSize": 67,
      "titleFontWeight": "normal",
      "titleColor": "#000000",
      "titleAnchor": "middle",
      "titleLimit": 1000,
      "titlePadding": 53,
      "rowPadding": 59
    }
  }
}
